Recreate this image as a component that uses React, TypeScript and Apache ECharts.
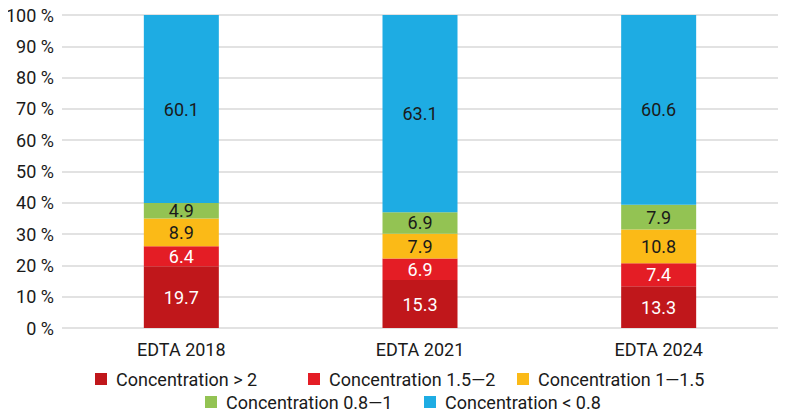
import { useEffect, useRef } from 'react';
import * as echarts from 'echarts';

const categories = ['EDTA 2018', 'EDTA 2021', 'EDTA 2024'];
const seriesNames = [
  'Concentration > 2',
  'Concentration 1.5\u20142',
  'Concentration 1\u20141.5',
  'Concentration 0.8\u20141',
  'Concentration < 0.8',
];
const over2 = [19.7, 15.3, 13.3];
const from15to2 = [6.4, 6.9, 7.4];
const from1to15 = [8.9, 7.9, 10.8];
const from08to1 = [4.9, 6.9, 7.9];
const under08 = [60.1, 63.1, 60.6];

const colors = ['#C0171B', '#E41D25', '#FBBA17', '#93C353', '#1EACE3'];
const labelColors = ['#fff', '#fff', '#1a1a1a', '#1a1a1a', '#1a1a1a'];
const font = 'Roboto, sans-serif';

// legend columns, as in the reference
const legendPos = [
  { left: 95, top: 370 },
  { left: 308, top: 370 },
  { left: 517, top: 370 },
  { left: 205, top: 393 },
  { left: 424, top: 393 },
];

export default function App() {
  const chartRef = useRef<HTMLDivElement>(null);

  useEffect(() => {
    if (!chartRef.current) return;
    const chart = echarts.init(chartRef.current, null, { renderer: 'svg' });
    const values = [over2, from15to2, from1to15, from08to1, under08];

    const option: echarts.EChartsOption = {
      animation: false,
      textStyle: { fontFamily: font },
      grid: { left: 62, right: 22, top: 15, bottom: 89 },
      legend: legendPos.map((p, i) => ({
        data: [seriesNames[i]],
        left: p.left,
        top: p.top,
        padding: 0,
        icon: 'rect',
        itemWidth: 12,
        itemHeight: 12,
        textStyle: { fontSize: 18, color: '#1a1a1a', fontFamily: font, padding: [0, 0, 0, 4] },
      })) as any,
      xAxis: {
        type: 'category',
        data: categories,
        axisLine: { show: false },
        axisTick: { show: false },
        axisLabel: { fontSize: 18, color: '#1a1a1a', margin: 12 },
      },
      yAxis: {
        type: 'value',
        min: 0,
        max: 100,
        interval: 10,
        axisLabel: { fontSize: 18, color: '#1a1a1a', formatter: '{value} %', margin: 8 },
        splitLine: { lineStyle: { color: '#D9D9D9', width: 1.5 } },
        axisLine: { show: false },
        axisTick: { show: false },
      },
      series: seriesNames.map((name, i) => ({
        name,
        type: 'bar',
        stack: 'total',
        barWidth: 75,
        data: values[i],
        itemStyle: { color: colors[i] },
        label: {
          show: true,
          position: 'inside',
          color: labelColors[i],
          fontSize: 18,
          fontFamily: font,
        },
      })),
    };

    chart.setOption(option);
    return () => chart.dispose();
  }, []);

  return <div ref={chartRef} style={{ width: 800, height: 417, margin: -8 }} />;
}
